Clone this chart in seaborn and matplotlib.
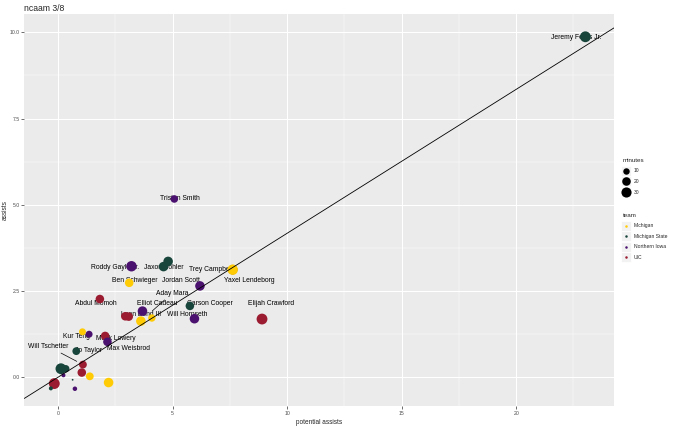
import numpy as np
import pandas as pd
import matplotlib
matplotlib.use("Agg")
import matplotlib.pyplot as plt
from matplotlib.lines import Line2D
import seaborn as sns

# ---------------- data ----------------
players = [
    "Jeremy Fears Jr.", "Tristan Smith", "Roddy Gayle Jr.", "Jaxon Kohler", "Coen Carr",
    "Trey Campbell", "Yaxel Lendeborg", "Ben Schwieger", "Jordan Scott", "Abdul Momoh",
    "Elliot Cadeau", "Ahmad Henderson", "Leon Bond III", "Aday Mara", "Nimari Burnett",
    "Carson Cooper", "Will Hornseth", "Elijah Crawford", "Kur Teng", "Kyle Pock",
    "Malik Lowery", "Max Weisbrod", "Jo Taylor", "Divine Ugochukwu", "Szymon Zapala",
    "Will Tschetter", "Jacob Hayes", "Morez Johnson", "Trey McKenney", "Chase Courbat",
    "Gehrig Normand", "Cam Gillus", "Filip Brankovic", "Jesse McCulloch",
]
teams = [
    "Michigan State", "Northern Iowa", "Northern Iowa", "Michigan State", "Michigan State",
    "Northern Iowa", "Michigan", "Michigan", "Northern Iowa", "UIC",
    "Northern Iowa", "UIC", "UIC", "Michigan", "Michigan",
    "Michigan State", "Northern Iowa", "UIC", "Michigan", "Northern Iowa",
    "UIC", "Northern Iowa", "Michigan State", "Michigan State", "Michigan State",
    "UIC", "UIC", "Michigan", "Michigan", "Northern Iowa",
    "Michigan State", "Northern Iowa", "UIC", "Michigan State",
]
potential_assists = [
    23.02, 5.07, 3.20, 4.60, 4.80,
    7.62, 7.62, 3.10, 6.19, 1.82,
    3.68, 2.93, 3.08, 3.61, 4.09,
    5.75, 5.95, 8.90, 1.06, 1.35,
    2.05, 2.15, 0.79, 0.12, 0.33,
    1.08, 1.03, 1.38, 2.20, 0.23,
    0.63, 0.73, -0.17, -0.32,
]
assists = [
    9.87, 5.17, 3.22, 3.21, 3.36,
    3.12, 3.12, 2.74, 2.65, 2.27,
    1.92, 1.77, 1.76, 1.63, 1.72,
    2.07, 1.70, 1.69, 1.32, 1.25,
    1.20, 1.03, 0.76, 0.25, 0.25,
    0.37, 0.14, 0.03, -0.15, 0.06,
    -0.07, -0.33, -0.18, -0.32,
]
minutes = [
    35, 15, 32, 26, 26,
    26, 32, 20, 26, 20,
    26, 20, 20, 26, 14,
    20, 26, 35, 12, 12,
    20, 20, 16, 35, 14,
    16, 20, 16, 26, 3,
    1, 4, 35, 3,
]
# reference line (linear fit shown in the chart)
fit_slope = 0.417
fit_intercept = 0.007

team_order = ["Michigan", "Michigan State", "Northern Iowa", "UIC"]
team_colors = ["#FFCB05", "#18453B", "#4B116F", "#9B1B30"]
minute_breaks = [10, 20, 30]
title = "ncaam 3/8"

df = pd.DataFrame({"player": players, "team": teams,
                   "potential_assists": potential_assists,
                   "assists": assists, "minutes": minutes})

# label placement (offsets in data units, layout only)
label_offsets = {
    "Jeremy Fears Jr.": (-0.40, -0.02), "Tristan Smith": (0.26, 0.0),
    "Roddy Gayle Jr.": (-0.71, -0.05), "Jaxon Kohler": (0.03, -0.04),
    "Trey Campbell": (-0.94, 0.02), "Yaxel Lendeborg": (0.72, -0.30),
    "Ben Schwieger": (0.26, 0.08), "Jordan Scott": (-0.82, 0.17),
    "Aday Mara": (1.37, 0.81), "Abdul Momoh": (-0.16, -0.12),
    "Elliot Cadeau": (0.64, 0.23), "Carson Cooper": (0.89, 0.08),
    "Elijah Crawford": (0.40, 0.46), "Leon Bond III": (0.54, 0.07),
    "Will Hornseth": (-0.32, 0.13), "Kur Teng": (-0.27, -0.13),
    "Malik Lowery": (0.48, -0.07), "Will Tschetter": (-1.52, 0.53),
    "Jo Taylor": (0.52, 0.02), "Max Weisbrod": (0.91, -0.19),
}
segment_labels = {"Aday Mara": 11.0, "Will Tschetter": 5.0}

# ---------------- style ----------------
sns.set_theme(style="darkgrid")
plt.rcParams["font.family"] = ["Liberation Sans", "DejaVu Sans"]

fig = plt.figure(figsize=(6.8, 4.26), dpi=100)
ax = fig.add_axes([24.3 / 680, 1 - 406 / 426, (614 - 24.3) / 680, (406 - 14) / 426])
ax.set_facecolor("#EBEBEB")

palette = dict(zip(team_order, team_colors))
size_norm = (min(minutes), max(minutes))
K = 1.3  # points of diameter per ggplot size unit


def ggsize(v):
    t = (v - size_norm[0]) / (size_norm[1] - size_norm[0])
    d = K * (1 + 5 * np.sqrt(max(t, 0)))
    return d * d


size_map = {m: ggsize(m) for m in sorted(set(minutes))}

# labels first (points drawn over them, as in reference)
for _, r in df.iterrows():
    if r.player not in label_offsets:
        continue
    dx, dy = label_offsets[r.player]
    lx, ly = r.potential_assists + dx, r.assists + dy
    if r.player in segment_labels:
        ax.annotate(r.player, xy=(r.potential_assists, r.assists), xytext=(lx, ly),
                    ha="center", va="center", fontsize=4.9, color="black", zorder=2,
                    arrowprops=dict(arrowstyle="-", color="black", lw=0.5,
                                    shrinkA=0, shrinkB=segment_labels[r.player]))
    else:
        ax.text(lx, ly, r.player, ha="center", va="center", fontsize=4.9,
                color="black", zorder=2)

sns.scatterplot(data=df, x="potential_assists", y="assists", hue="team",
                hue_order=team_order, palette=palette, size="minutes",
                sizes=size_map, linewidth=0, alpha=1, legend=False, ax=ax, zorder=3)

ax.axline((0, fit_intercept), slope=fit_slope, color="black", lw=0.6, zorder=4)

ax.set_xlim(-1.48, 24.27)
ax.set_ylim(-0.83, 10.53)
ax.set_xticks([0, 5, 10, 15, 20])
ax.set_xticklabels(["0", "5", "10", "15", "20"])
ax.set_yticks([0, 2.5, 5, 7.5, 10])
ax.set_yticklabels(["0.0", "2.5", "5.0", "7.5", "10.0"])
ax.set_xticks([2.5, 7.5, 12.5, 17.5, 22.5], minor=True)
ax.set_yticks([1.25, 3.75, 6.25, 8.75], minor=True)
ax.grid(which="major", color="white", lw=0.75)
ax.grid(which="minor", color="white", lw=0.35)
ax.tick_params(which="major", length=2, width=0.5, color="#333333",
               labelsize=3.7, labelcolor="#4D4D4D", pad=1.5, bottom=True, left=True)
ax.tick_params(which="minor", length=0)
for s in ax.spines.values():
    s.set_visible(False)
ax.set_xlabel("potential assists", fontsize=4.7)
ax.set_ylabel("assists", fontsize=4.7)
ax.xaxis.set_label_coords(0.5, -0.034)
ax.yaxis.set_label_coords(-0.026, 0.5)
ax.set_title(title, loc="left", fontsize=6.2, pad=2.5)

# ---------------- legends ----------------
key_bg = dict(marker="s", markersize=7, color="#F2F2F2", ls="", markeredgecolor="white",
              markeredgewidth=0.6)
size_handles = [(Line2D([], [], **key_bg),
                 Line2D([], [], marker="o", ls="", color="black", markeredgewidth=0,
                        markersize=np.sqrt(ggsize(v)))) for v in minute_breaks]
team_handles = [(Line2D([], [], **key_bg),
                 Line2D([], [], marker="o", ls="", color=c, markeredgewidth=0,
                        markersize=1.8)) for c in team_colors]
common = dict(frameon=False, fontsize=3.6, title_fontsize=4.5, handlelength=1.3,
              handletextpad=0.8, labelspacing=1.1, borderaxespad=0, alignment="left")
leg1 = fig.legend(size_handles, [str(v) for v in minute_breaks], title="minutes",
                  loc="upper left", bbox_to_anchor=(621 / 680, 1 - 156 / 426), **common)
leg2 = fig.legend(team_handles, team_order, title="team",
                  loc="upper left", bbox_to_anchor=(621 / 680, 1 - 211 / 426), **common)

fig.savefig("out.png", dpi=100)
